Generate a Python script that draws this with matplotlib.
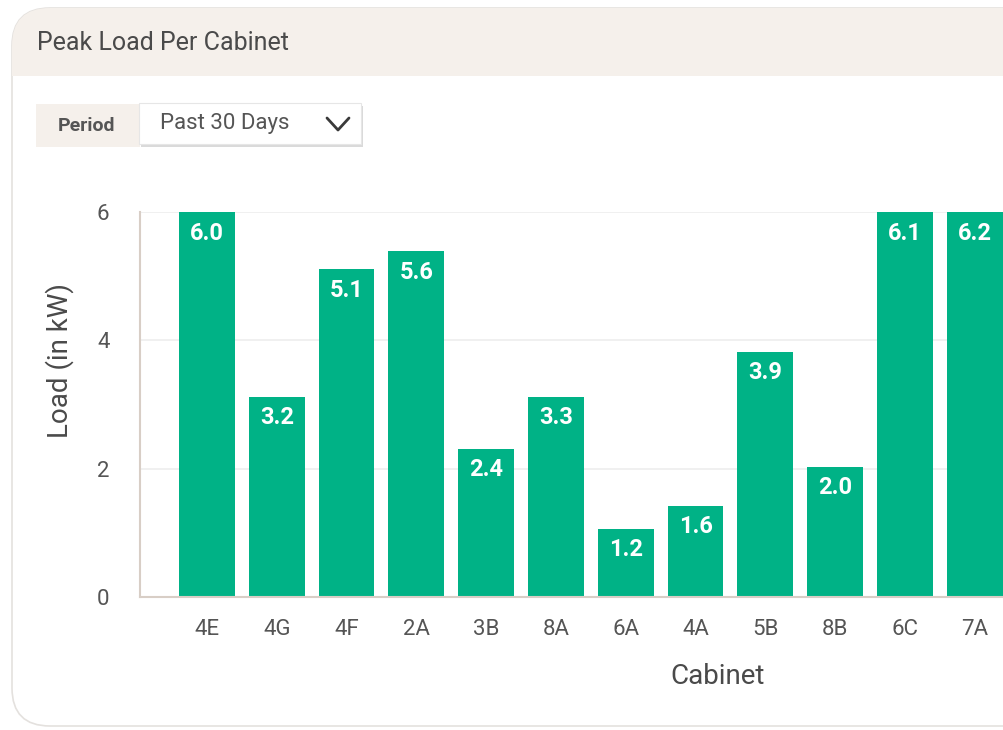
import matplotlib
matplotlib.use('Agg')
import matplotlib.pyplot as plt
from matplotlib.patches import FancyBboxPatch, Rectangle

plt.rcParams['font.family'] = ['Roboto', 'DejaVu Sans']

# dados
cabinets = ['4E', '4G', '4F', '2A', '3B', '8A', '6A', '4A', '5B', '8B', '6C', '7A']
bar_heights = [6.0, 3.12, 5.11, 5.39, 2.31, 3.12, 1.06, 1.42, 3.82, 2.03, 6.1, 6.2]
bar_labels = [6.0, 3.2, 5.1, 5.6, 2.4, 3.3, 1.2, 1.6, 3.9, 2.0, 6.1, 6.2]
y_ticks = [0, 2, 4, 6]

W, H = 1004, 730
verde = '#00B286'
bege = '#F5F0EB'
texto = '#4A4A4A'

fig = plt.figure(figsize=(W / 100, H / 100), dpi=100)
fig.patch.set_facecolor('white')

# eixo de fundo em pixels para o "card"
bg = fig.add_axes([0, 0, 1, 1], zorder=0)
bg.set_xlim(0, W)
bg.set_ylim(H, 0)
bg.axis('off')

card = FancyBboxPatch((12, 8), 1200, 718, boxstyle='round,pad=0,rounding_size=38',
                      facecolor='white', edgecolor='#E4E1DE', linewidth=1.2)
bg.add_patch(card)
header = Rectangle((0, 0), 1300, 76, facecolor=bege, edgecolor='none')
bg.add_patch(header)
header.set_clip_path(card)
bg.text(37, 43, 'Peak Load Per Cabinet', fontsize=18, color=texto, va='center', ha='left')

# seletor de período
bg.add_patch(Rectangle((36, 104), 104, 43, facecolor=bege, edgecolor='none'))
bg.text(87, 126, 'Period', fontsize=14, color='#555555', weight='bold', va='center', ha='center')
bg.add_patch(Rectangle((141, 106), 222, 41, facecolor='#DADADA', edgecolor='none'))
bg.add_patch(Rectangle((139, 103), 222, 41, facecolor='white', edgecolor='#E6E6E6', linewidth=0.8))
bg.text(160, 124, 'Past 30 Days', fontsize=16, color='#555555', va='center', ha='left')
bg.plot([327, 338, 349], [118, 130, 118], color='#3A3A3A', linewidth=2, solid_capstyle='round')

# gráfico de barras
ax = fig.add_axes([140 / W, 1 - 597 / H, (W - 140) / W, 385 / H], zorder=1)
ax.patch.set_alpha(0)
x = list(range(len(cabinets)))
bars = ax.bar(x, bar_heights, width=0.8, color=verde, zorder=2)
ax.set_ylim(0, 6)
ax.set_xlim(-0.96, 11.42)
ax.set_xticks(x)
ax.set_xticklabels(cabinets)
ax.set_yticks(y_ticks)
ax.tick_params(axis='both', length=0, labelsize=16, colors='#555555')
ax.tick_params(axis='x', pad=16)
ax.tick_params(axis='y', pad=22)
ax.grid(axis='y', color='#EDEDED', linewidth=1.2, zorder=0)
for s in ['top', 'right']:
    ax.spines[s].set_visible(False)
for s in ['left', 'bottom']:
    ax.spines[s].set_color('#D8CEC6')
    ax.spines[s].set_linewidth(1.5)

for xi, h, lab in zip(x, bar_heights, bar_labels):
    ax.annotate(f'{lab:.1f}', (xi, min(h, 6)), xytext=(0, -21), textcoords='offset pixels',
                ha='center', va='center', color='white', fontsize=17, weight='bold', zorder=3)

fig.text(60 / W, 1 - 360 / H, 'Load (in kW)', rotation=90, fontsize=20, color=texto,
         ha='center', va='center')
fig.text(718 / W, 1 - 676 / H, 'Cabinet', fontsize=20, color=texto, ha='center', va='center')

fig.savefig('out.png', dpi=100)
